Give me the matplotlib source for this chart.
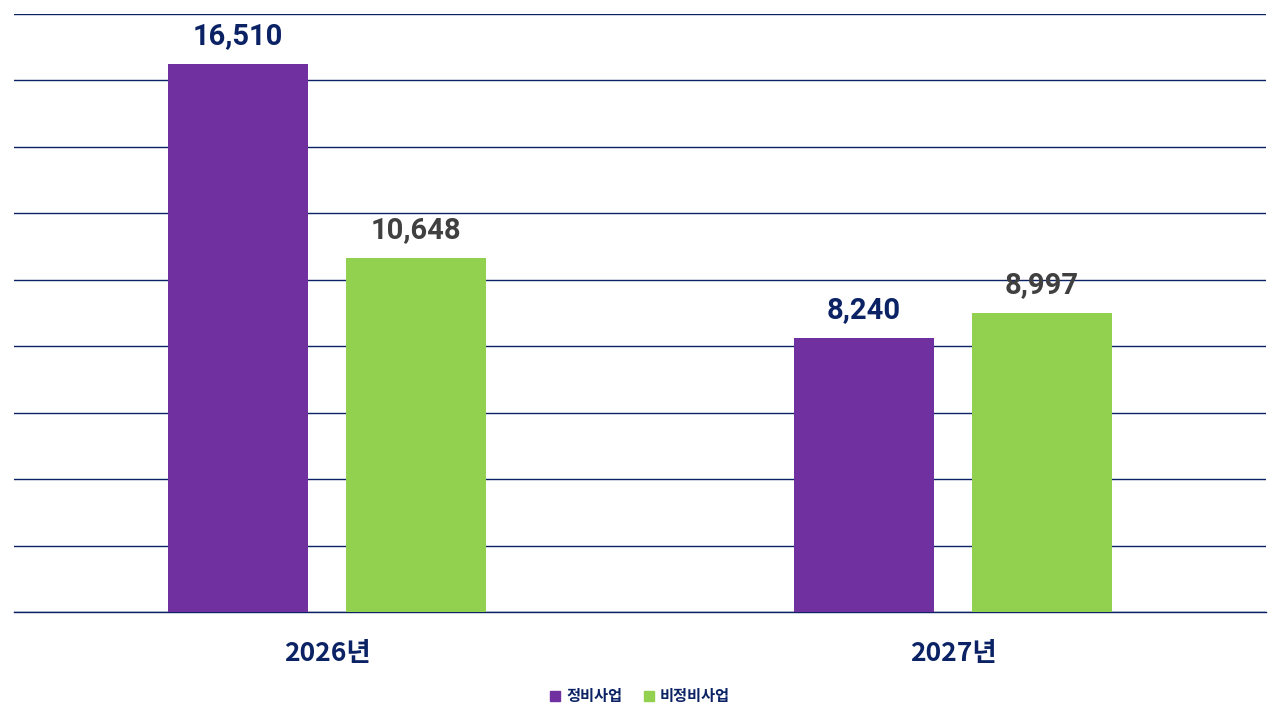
import matplotlib.pyplot as plt
import numpy as np
from matplotlib.patches import Patch

years = ["2026년", "2027년"]
series_names = ["정비사업", "비정비사업"]
maintenance = [16510, 8240]
non_maintenance = [10648, 8997]

PURPLE = "#7030A0"
GREEN = "#92D050"
NAVY = "#0B2265"
GRAY = "#404040"


def main():
    fig = plt.figure(figsize=(12.8, 7.2), dpi=100)
    ax = fig.add_axes([14 / 1280, 1 - 612 / 720, 1252 / 1280, 598 / 720])

    x = np.arange(len(years))
    width = 0.2236
    offset = 0.142

    b1 = ax.bar(x - offset, maintenance, width, color=PURPLE, zorder=3)
    b2 = ax.bar(x + offset, non_maintenance, width, color=GREEN, zorder=3)

    for bars, color in ((b1, NAVY), (b2, GRAY)):
        for rect in bars:
            h = rect.get_height()
            ax.annotate(f"{h:,.0f}", (rect.get_x() + rect.get_width() / 2, h),
                        xytext=(0, 10), textcoords="offset points",
                        ha="center", va="bottom", fontsize=21,
                        fontweight="bold", color=color, family="Roboto",
                        zorder=4)

    ax.set_xlim(-0.5, 1.5)
    ax.set_ylim(0, 18000)
    ax.set_yticks(np.arange(0, 18001, 2000))
    ax.yaxis.grid(True, color=NAVY, linewidth=1.0, zorder=1)
    ax.tick_params(axis="y", length=0, labelleft=False)
    ax.tick_params(axis="x", length=0, pad=20)
    ax.set_xticks(x)
    ax.set_xticklabels(years, fontsize=19, fontweight="bold", color=NAVY,
                       family=["Noto Sans CJK KR", "DejaVu Sans"])
    for side in ("top", "right", "left"):
        ax.spines[side].set_visible(False)
    ax.spines["bottom"].set_color(NAVY)
    ax.spines["bottom"].set_linewidth(1.0)

    handles = [Patch(color=PURPLE), Patch(color=GREEN)]
    leg = fig.legend(handles, series_names, loc="center",
                     bbox_to_anchor=(0.5, 1 - 696 / 720), ncol=2,
                     frameon=False, handlelength=0.65, handleheight=0.65,
                     handletextpad=0.4, columnspacing=1.4,
                     prop={"family": "Noto Sans CJK KR", "weight": "bold",
                           "size": 11})
    for t in leg.get_texts():
        t.set_color(NAVY)

    fig.savefig("out.png", dpi=100)


if __name__ == "__main__":
    main()
